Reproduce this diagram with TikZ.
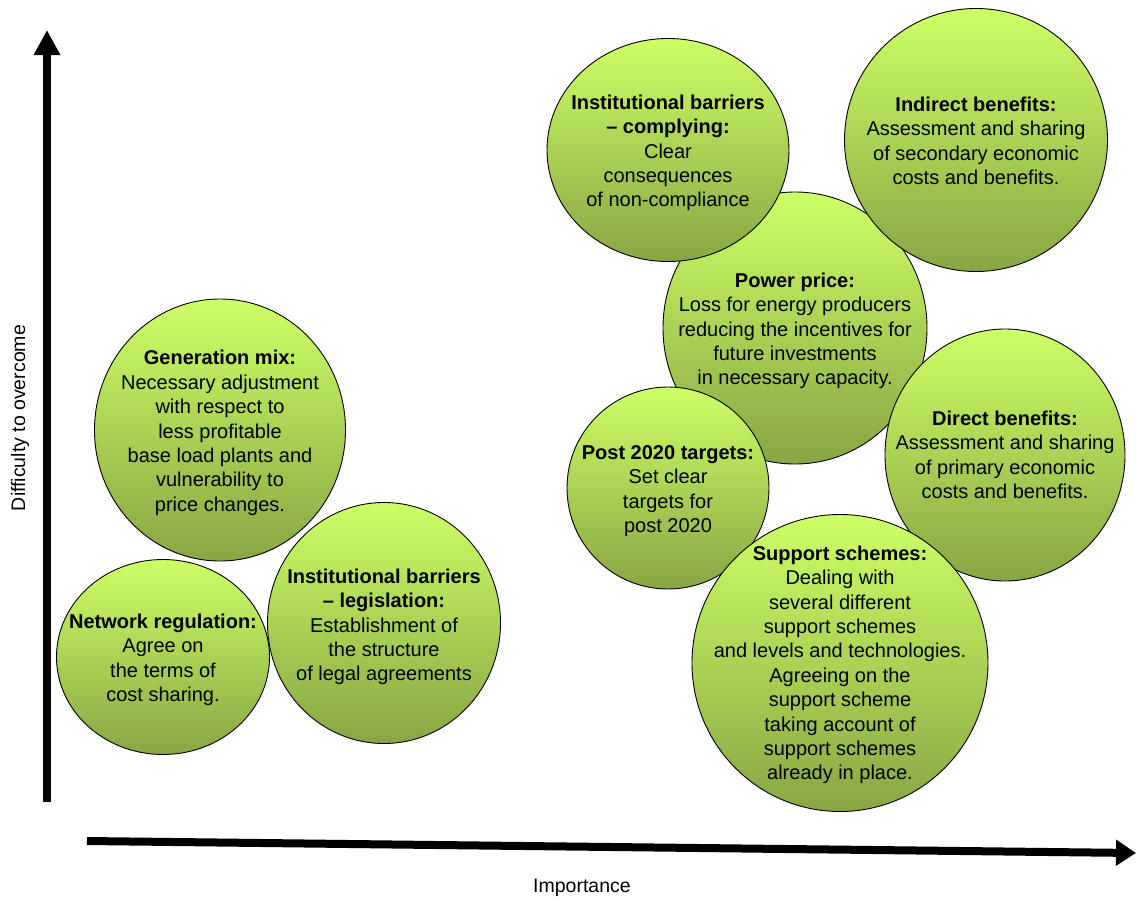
\documentclass[tikz,border=0pt]{standalone}
\usepackage{fontspec}
\setmainfont{Liberation Sans}
\usetikzlibrary{shapes.geometric,arrows.meta}
\definecolor{bubtop}{RGB}{205,255,102}
\definecolor{bubmid}{RGB}{180,225,90}
\definecolor{bubbot}{RGB}{135,166,68}
\tikzset{
  bubble/.style={ellipse, draw=black, line width=0.9pt, inner sep=0pt, outer sep=0pt,
    top color=bubtop, middle color=bubmid, bottom color=bubbot},
  bubtext/.style={align=center, font=\fontsize{20}{24.4}\selectfont, text=black, inner sep=0pt},
  axisline/.style={line width=8.5pt, -{Triangle[length=25pt,width=25pt]}},
  axisline2/.style={line width=8pt, -{Triangle[length=20pt,width=25pt]}},
  axislabel/.style={font=\fontsize{19.5}{23}\selectfont, inner sep=0pt}
}
\begin{document}
\begin{tikzpicture}[x=1pt,y=-1pt]
\useasboundingbox (0,0) rectangle (1137,900);
% axes
\coordinate (ybot) at (47,802);
\coordinate (ytop) at (47,30);
\draw[axisline] (ybot) -- (ytop);
\coordinate (xleft) at (87,841);
\coordinate (xright) at (1136,853);
\draw[axisline2] (xleft) -- (xright);
\node[axislabel, rotate=90] (ylab) at (20,418) {Difficulty to overcome};
\node[axislabel] (xlab) at (582,888) {Importance};
% right group
\node[bubble, minimum width=264pt, minimum height=272pt] (power) at (795,328) {};
\node[bubtext] (powert) at ([yshift=-3pt]power.center)
  {\textbf{Power price:}\\Loss for energy producers\\reducing the incentives for\\future investments\\in necessary capacity.};
\node[bubble, minimum width=242pt, minimum height=223pt] (comply) at (668,150) {};
\node[bubtext] (complyt) at ([yshift=-3pt]comply.center)
  {\textbf{Institutional barriers}\\\textbf{– complying:}\\Clear\\consequences\\of non-compliance};
\node[bubble, minimum width=263pt, minimum height=263pt] (indirect) at (976,140) {};
\node[bubtext] (indirectt) at ([yshift=-1pt]indirect.center)
  {\textbf{Indirect benefits:}\\Assessment and sharing\\of secondary economic\\costs and benefits.};
\node[bubble, minimum width=240pt, minimum height=252pt] (direct) at (1005,455) {};
\node[bubtext] (directt) at (direct.center)
  {\textbf{Direct benefits:}\\Assessment and sharing\\of primary economic\\costs and benefits.};
\node[bubble, minimum width=202pt, minimum height=202pt] (post) at (668,488) {};
\node[bubtext] (postt) at ([yshift=-3pt]post.center)
  {\textbf{Post 2020 targets:}\\Set clear\\targets for\\post 2020};
\node[bubble, minimum width=296pt, minimum height=297pt] (support) at (840,663) {};
\node[bubtext] (supportt) at ([yshift=-2pt]support.center)
  {\textbf{Support schemes:}\\Dealing with\\several different\\support schemes\\and levels and technologies.\\Agreeing on the\\support scheme\\taking account of\\support schemes\\already in place.};
% left group
\node[bubble, minimum width=251pt, minimum height=262pt] (genmix) at (220,430) {};
\node[bubtext] (genmixt) at ([yshift=-3pt]genmix.center)
  {\textbf{Generation mix:}\\Necessary adjustment\\with respect to\\less profitable\\base load plants and\\vulnerability to\\price changes.};
\node[bubble, minimum width=213pt, minimum height=195pt] (network) at (163,657) {};
\node[bubtext] (networkt) at ([yshift=-3pt]network.center)
  {\textbf{Network regulation:}\\Agree on\\the terms of\\cost sharing.};
\node[bubble, minimum width=233pt, minimum height=241pt] (legis) at (384,623) {};
\node[bubtext] (legist) at ([yshift=-4pt]legis.center)
  {\textbf{Institutional barriers}\\\textbf{– legislation:}\\Establishment of\\the structure\\of legal agreements};
\end{tikzpicture}
\end{document}
